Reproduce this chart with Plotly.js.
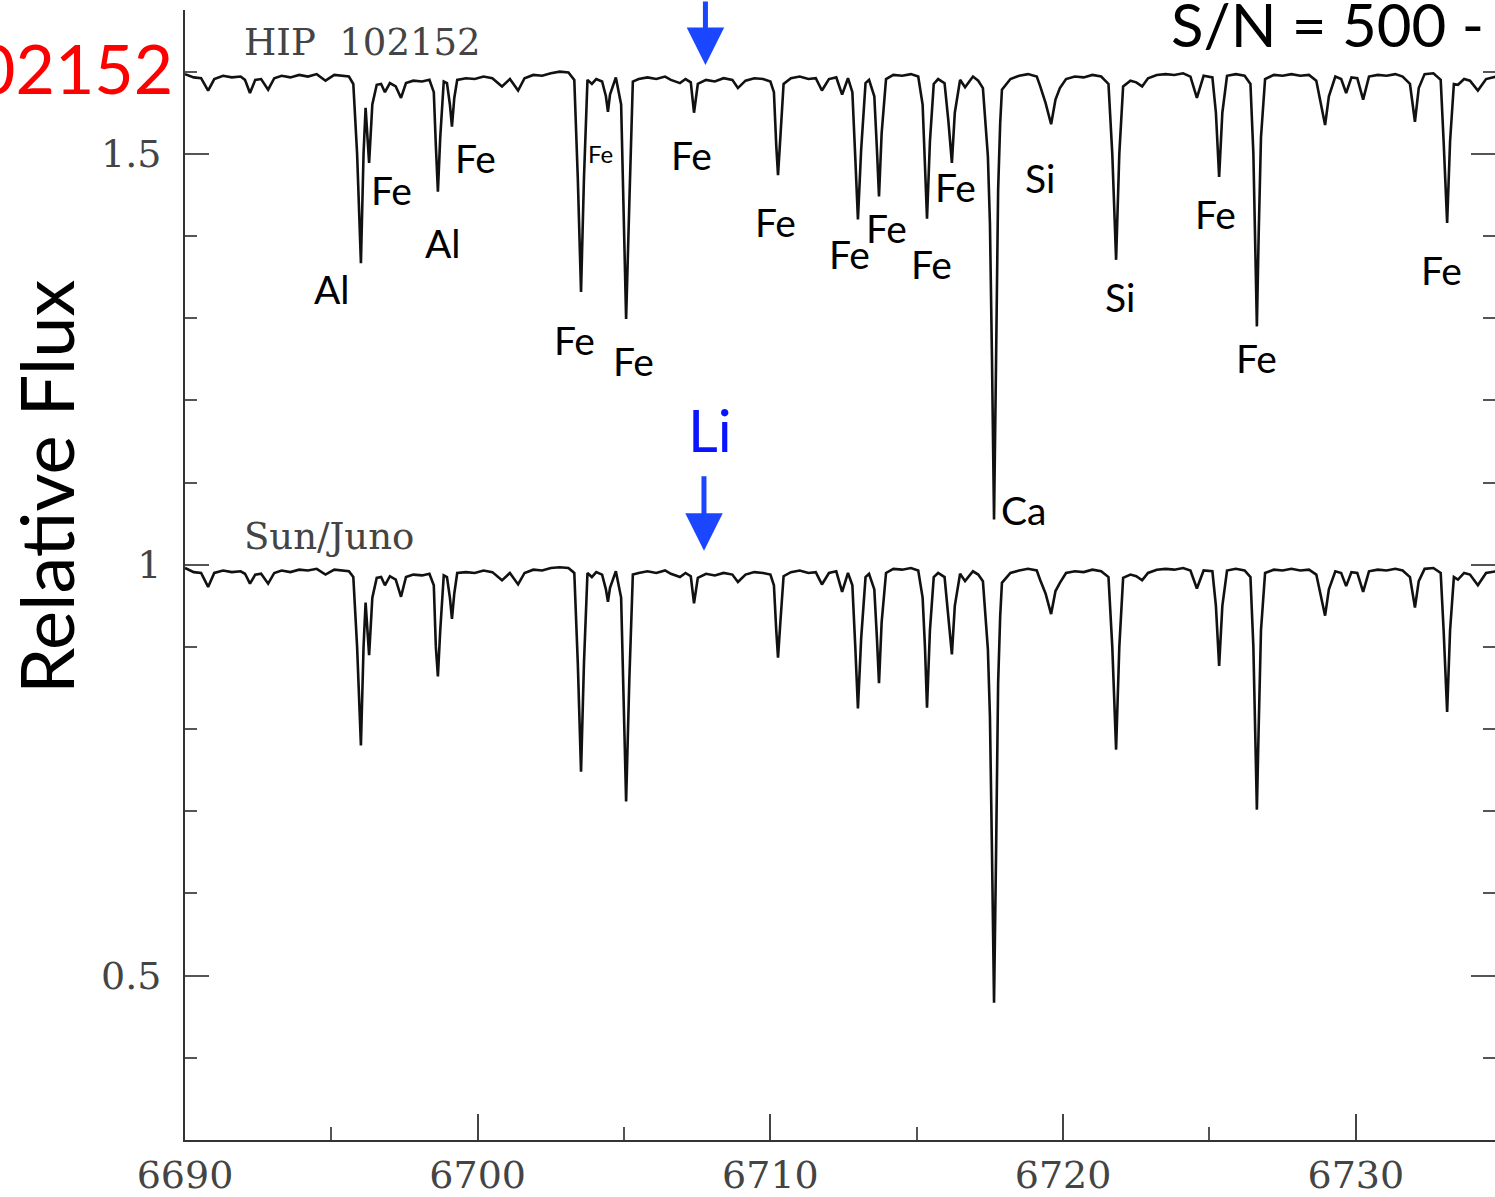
<!DOCTYPE html>
<html><head><meta charset="utf-8">
<script src="https://cdn.plot.ly/plotly-3.0.1.min.js"></script>
<style>html,body{margin:0;padding:0;background:#fff}#chart{width:1495px;height:1197px}</style>
</head><body><div id="chart"></div>
<script>
// Wavelength grid (Angstrom)
const wavelength = [
6690.0,6690.3,6690.55,6690.79,6691.0,6691.3,6691.6,6691.9,6692.05,6692.22,6692.4,6692.6,6692.84,6693.05,6693.3,6693.6,6693.9,6694.2,6694.5,6694.8,6695.1,6695.4,6695.6,6695.75,6695.88,6696.01,6696.1,6696.17,6696.29,6696.4,6696.55,6696.7,6696.83,6697.0,6697.2,6697.38,6697.55,6697.8,6698.1,6698.35,6698.5,6698.57,6698.64,6698.72,6698.84,6698.95,6699.05,6699.12,6699.2,6699.3,6699.6,6699.9,6700.2,6700.5,6700.83,6701.1,6701.38,6701.6,6701.9,6702.2,6702.5,6702.8,6703.1,6703.3,6703.42,6703.53,6703.63,6703.75,6703.9,6704.05,6704.25,6704.38,6704.45,6704.52,6704.72,6704.9,6704.98,6705.07,6705.18,6705.3,6705.5,6705.8,6706.1,6706.4,6706.6,6706.91,6707.1,6707.28,6707.39,6707.52,6707.8,6708.1,6708.4,6708.7,6708.89,6709.15,6709.45,6709.75,6710.0,6710.12,6710.2,6710.26,6710.34,6710.45,6710.7,6711.0,6711.3,6711.55,6711.76,6712.0,6712.25,6712.45,6712.65,6712.8,6712.9,6712.99,6713.1,6713.25,6713.37,6713.55,6713.64,6713.71,6713.8,6713.95,6714.2,6714.5,6714.8,6715.05,6715.2,6715.28,6715.35,6715.45,6715.58,6715.73,6715.95,6716.08,6716.2,6716.3,6716.38,6716.48,6716.65,6716.92,6717.1,6717.26,6717.43,6717.5,6717.57,6717.64,6717.71,6717.78,6717.85,6717.91,6718.2,6718.5,6718.8,6719.1,6719.21,6719.4,6719.59,6719.74,6719.89,6720.1,6720.4,6720.7,6721.0,6721.3,6721.55,6721.68,6721.81,6721.92,6722.05,6722.3,6722.5,6722.7,6722.9,6723.2,6723.5,6723.8,6724.1,6724.35,6724.57,6724.8,6725.1,6725.22,6725.33,6725.44,6725.6,6725.9,6726.2,6726.4,6726.5,6726.56,6726.62,6726.68,6726.76,6726.9,6727.2,6727.5,6727.8,6728.1,6728.4,6728.65,6728.82,6728.95,6729.08,6729.3,6729.5,6729.67,6729.85,6730.05,6730.25,6730.45,6730.75,6731.05,6731.35,6731.6,6731.85,6732.02,6732.15,6732.35,6732.65,6732.9,6733.0,6733.12,6733.22,6733.35,6733.49,6733.7,6733.9,6734.17,6734.45,6734.8
];
// Sun (Juno) relative flux
const sunFlux = [
0.996,0.991,0.990,0.973,0.990,0.993,0.991,0.992,0.989,0.977,0.988,0.989,0.977,0.990,0.993,0.991,0.994,0.993,0.995,0.988,0.994,0.993,0.992,0.985,0.900,0.780,0.900,0.954,0.890,0.960,0.984,0.985,0.975,0.986,0.982,0.961,0.985,0.988,0.987,0.989,0.975,0.900,0.864,0.920,0.987,0.985,0.960,0.934,0.965,0.990,0.991,0.990,0.993,0.991,0.981,0.990,0.976,0.990,0.994,0.993,0.996,0.997,0.996,0.990,0.880,0.748,0.880,0.990,0.985,0.991,0.988,0.970,0.955,0.972,0.992,0.960,0.850,0.712,0.860,0.988,0.990,0.992,0.990,0.993,0.989,0.985,0.990,0.986,0.953,0.984,0.989,0.987,0.990,0.988,0.979,0.988,0.991,0.990,0.988,0.975,0.920,0.887,0.930,0.986,0.991,0.993,0.990,0.991,0.976,0.990,0.992,0.967,0.990,0.975,0.900,0.825,0.910,0.985,0.989,0.970,0.910,0.856,0.930,0.990,0.995,0.994,0.996,0.993,0.960,0.900,0.826,0.920,0.985,0.990,0.985,0.940,0.891,0.950,0.970,0.989,0.980,0.992,0.988,0.980,0.897,0.815,0.650,0.467,0.650,0.856,0.937,0.978,0.990,0.993,0.995,0.993,0.982,0.965,0.940,0.968,0.978,0.990,0.992,0.991,0.994,0.992,0.985,0.900,0.775,0.900,0.984,0.988,0.986,0.981,0.990,0.994,0.995,0.994,0.996,0.993,0.971,0.993,0.992,0.950,0.877,0.950,0.993,0.995,0.993,0.985,0.900,0.800,0.702,0.800,0.920,0.990,0.994,0.993,0.995,0.993,0.994,0.988,0.960,0.938,0.970,0.992,0.990,0.974,0.991,0.990,0.967,0.992,0.994,0.993,0.995,0.993,0.985,0.948,0.980,0.995,0.996,0.990,0.920,0.821,0.920,0.985,0.982,0.990,0.988,0.975,0.990,0.992
];
// HIP 102152 relative flux (plotted with vertical offset as in the original figure)
const hipFlux = [
1.597,1.593,1.592,1.577,1.591,1.595,1.593,1.594,1.590,1.574,1.590,1.591,1.578,1.592,1.595,1.593,1.596,1.594,1.597,1.589,1.596,1.595,1.594,1.585,1.500,1.367,1.500,1.556,1.489,1.560,1.584,1.585,1.575,1.586,1.582,1.568,1.586,1.589,1.588,1.590,1.575,1.510,1.454,1.520,1.588,1.586,1.560,1.533,1.568,1.590,1.592,1.591,1.594,1.592,1.582,1.591,1.577,1.592,1.596,1.595,1.598,1.600,1.599,1.590,1.470,1.332,1.470,1.590,1.585,1.591,1.588,1.570,1.551,1.572,1.593,1.560,1.430,1.299,1.440,1.588,1.591,1.593,1.591,1.594,1.590,1.586,1.591,1.587,1.550,1.585,1.590,1.588,1.592,1.590,1.580,1.589,1.592,1.591,1.588,1.575,1.510,1.474,1.520,1.585,1.592,1.594,1.591,1.592,1.577,1.591,1.593,1.572,1.592,1.575,1.495,1.420,1.505,1.586,1.590,1.570,1.505,1.448,1.525,1.591,1.596,1.595,1.597,1.594,1.560,1.495,1.421,1.515,1.585,1.591,1.586,1.540,1.489,1.550,1.570,1.590,1.581,1.594,1.589,1.580,1.497,1.415,1.250,1.055,1.250,1.456,1.537,1.578,1.591,1.595,1.597,1.594,1.583,1.562,1.536,1.566,1.580,1.591,1.594,1.593,1.596,1.594,1.585,1.500,1.371,1.500,1.582,1.589,1.587,1.582,1.592,1.596,1.597,1.596,1.598,1.594,1.568,1.595,1.593,1.550,1.472,1.550,1.595,1.597,1.595,1.585,1.500,1.400,1.290,1.400,1.520,1.591,1.596,1.595,1.597,1.595,1.596,1.589,1.560,1.535,1.570,1.594,1.591,1.574,1.593,1.592,1.566,1.594,1.596,1.595,1.597,1.594,1.585,1.539,1.580,1.597,1.598,1.590,1.515,1.416,1.515,1.585,1.584,1.591,1.589,1.577,1.591,1.594
];
// Line identifications: [label, wavelength, flux position]
const lineLabels = ["Al","Fe","Al","Fe","Fe","Fe","Fe","Fe","Fe","Fe","Fe","Fe","Si","Si","Fe","Fe","Fe","Ca"];
const labelWave  = [6695.02,6697.07,6698.81,6699.91,6703.32,6705.31,6707.32,6710.19,6712.69,6713.95,6715.49,6716.34,6719.21,6721.94,6725.19,6726.62,6732.91,6718.63];
const labelFlux  = [1.335,1.456,1.392,1.495,1.274,1.248,1.498,1.417,1.378,1.410,1.366,1.460,1.471,1.326,1.427,1.252,1.359,1.066];
const smallLabel = {text:"Fe", wave:6704.21, flux:1.501};
const liWave = 6707.73;

const sans = "Lato, 'Open Sans', sans-serif";
const serif = "'DejaVu Serif', 'Liberation Serif', serif";

const traces = [
  {x: wavelength, y: hipFlux, type:'scatter', mode:'lines', line:{color:'#111', width:2.6}, hoverinfo:'skip'},
  {x: wavelength, y: sunFlux, type:'scatter', mode:'lines', line:{color:'#111', width:2.6}, hoverinfo:'skip'}
];

const ann = [];
for (let i=0;i<lineLabels.length;i++){
  ann.push({x:labelWave[i], y:labelFlux[i], xref:'x', yref:'y', text:lineLabels[i], showarrow:false,
    font:{family:sans, size:39, color:'#000'}});
}
ann.push({x:smallLabel.wave, y:smallLabel.flux, xref:'x', yref:'y', text:smallLabel.text, showarrow:false,
  font:{family:sans, size:24, color:'#000'}});
// Li label and arrows
ann.push({x:liWave+0.2, y:1.164, xref:'x', yref:'y', text:'Li', showarrow:false, font:{family:sans, size:58, color:'#0a14ff'}});
ann.push({x:liWave, y:1.017, xref:'x', yref:'y', text:'', showarrow:true, ax:0, ay:-76, arrowhead:2, arrowsize:1.5, arrowwidth:5, arrowcolor:'#1a46ff', standoff:0});
ann.push({x:liWave+0.05, y:1.608, xref:'x', yref:'y', text:'', showarrow:true, ax:0, ay:-80, arrowhead:2, arrowsize:1.5, arrowwidth:5, arrowcolor:'#1a46ff', standoff:0});
// spectrum names
ann.push({x:6691.95, y:1.635, xref:'x', yref:'y', text:'HIP  102152', xanchor:'left', showarrow:false, font:{family:serif, size:37, color:'#444'}});
ann.push({x:6691.95, y:1.034, xref:'x', yref:'y', text:'Sun/Juno', xanchor:'left', showarrow:false, font:{family:serif, size:37, color:'#444'}});
// axis title
ann.push({x:-0.1415, y:0.578, xref:'paper', yref:'paper', text:'Relative Flux', textangle:-90, showarrow:false, font:{family:sans, size:74, color:'#000'}});
// cropped overlay texts
ann.push({x:-0.008, y:1.605, xref:'paper', yref:'y', text:'02152', xanchor:'right', yanchor:'middle', showarrow:false, font:{family:sans, size:68, color:'#ff0000'}});
ann.push({x:0.993, y:1.0, xref:'paper', yref:'paper', text:'S/N = 500 -', xanchor:'right', yanchor:'middle', yshift:-14, showarrow:false, font:{family:sans, size:60, color:'#000'}});

const layout = {
  width:1495, height:1197,
  margin:{l:185, r:0, t:10, b:57},
  paper_bgcolor:'#fff', plot_bgcolor:'#fff',
  showlegend:false,
  xaxis:{range:[6690, 6734.755], showgrid:false, zeroline:false, showline:true, linecolor:'#333', linewidth:2,
    ticks:'inside', ticklen:26, tickwidth:2, tickcolor:'#444', dtick:10, tick0:6690,
    minor:{ticks:'inside', ticklen:13, tickwidth:2, tickcolor:'#555', dtick:5, showgrid:false},
    tickfont:{family:serif, size:38, color:'#444'}, ticklabelstandoff:0},
  yaxis:{range:[0.3, 1.675], showgrid:false, zeroline:false, showline:true, linecolor:'#333', linewidth:2,
    ticks:'inside', ticklen:24, tickwidth:2, tickcolor:'#555', mirror:'ticks',
    tickvals:[0.5,1,1.5], ticktext:['0.5','1','1.5'],
    minor:{ticks:'inside', ticklen:12, tickwidth:2, tickcolor:'#555', dtick:0.1, tick0:0, showgrid:false},
    tickfont:{family:serif, size:38, color:'#444'}, ticklabelstandoff:14},
  annotations: ann
};
Plotly.newPlot('chart', traces, layout, {staticPlot:true, displayModeBar:false});
</script></body></html>
